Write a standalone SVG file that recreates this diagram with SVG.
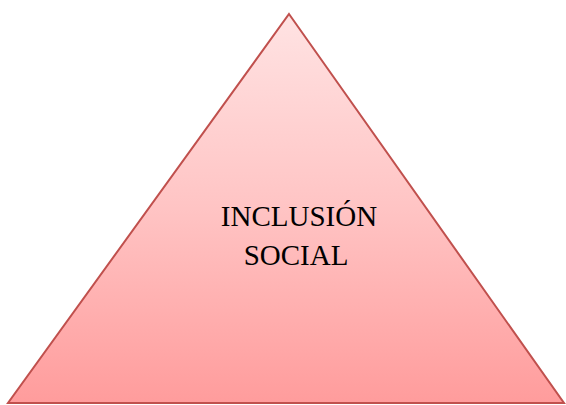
<svg xmlns="http://www.w3.org/2000/svg" width="566" height="405" viewBox="0 0 566 405">
<defs>
<linearGradient id="g" x1="0" y1="0" x2="0" y2="1">
<stop offset="0" stop-color="#FFE3E3"/>
<stop offset="0.5" stop-color="#FFC4C4"/>
<stop offset="1" stop-color="#FF9C9C"/>
</linearGradient>
<style>
.t{font-family:"Liberation Serif","Times New Roman",serif;font-size:29px;fill:#000;text-anchor:middle}
</style>
</defs>
<rect width="566" height="405" fill="#fff"/>
<g id="triangle">
<polygon points="289,14 564,403 8,403" fill="url(#g)" stroke="#C0504D" stroke-width="2" stroke-linejoin="miter"/>
<text class="t" x="299" y="226">INCLUSIÓN</text>
<text class="t" x="296" y="265">SOCIAL</text>
</g>
</svg>
